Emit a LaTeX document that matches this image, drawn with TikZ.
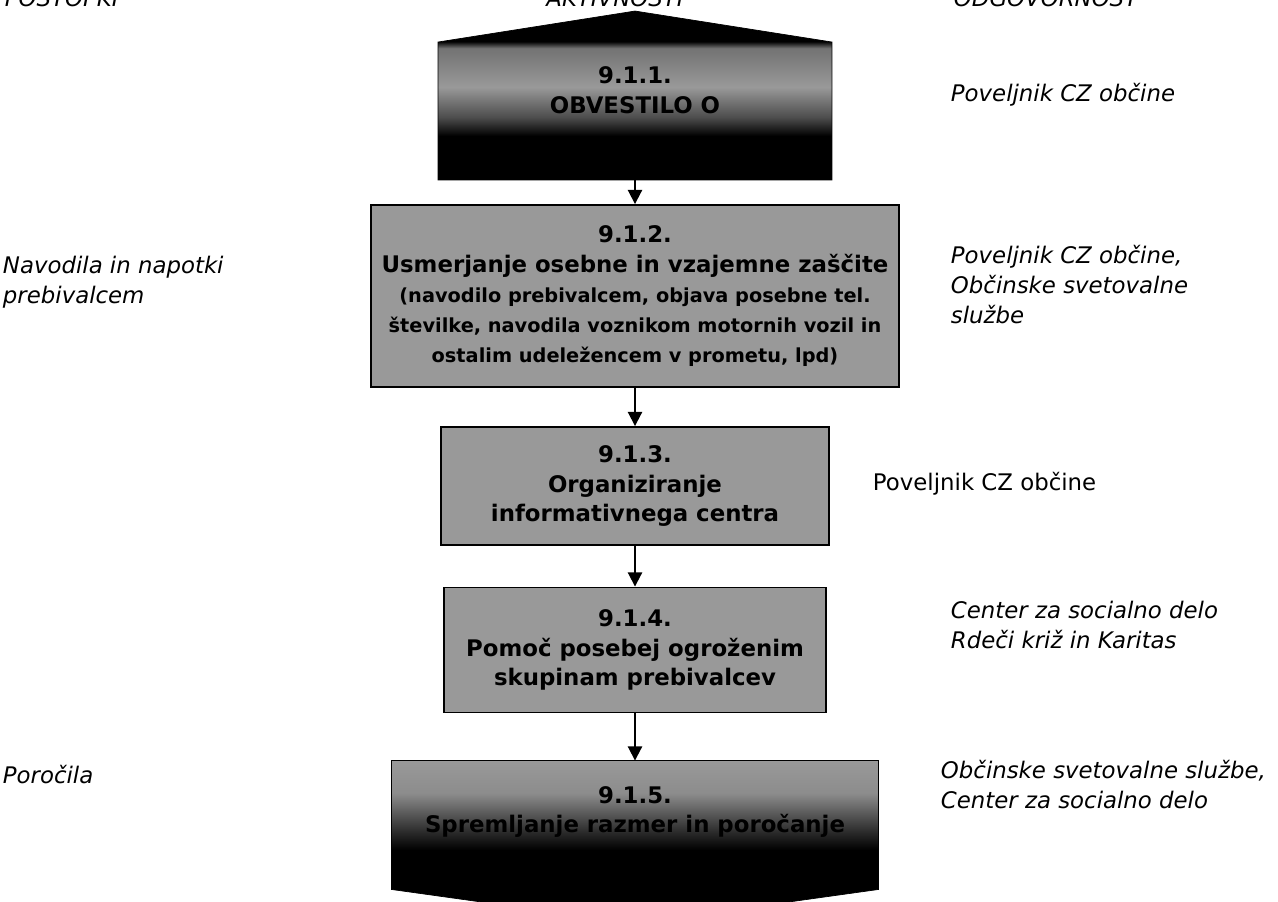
\documentclass[tikz,border=0pt]{standalone}
\usepackage{fontspec}
\setmainfont{DejaVu Sans}
\usetikzlibrary{arrows.meta,backgrounds}

% shadings for the first and the last activity
\pgfdeclareverticalshading{topbox}{100bp}{color(0bp)=(black); color(38bp)=(black); color(43.5bp)=(black!70); color(52.5bp)=(black!40); color(64bp)=(black!55); color(66bp)=(black); color(100bp)=(black)}
\pgfdeclareverticalshading{endbox}{100bp}{color(0bp)=(black); color(47.5bp)=(black); color(52.5bp)=(black!85); color(65bp)=(black!45); color(75bp)=(black!40); color(100bp)=(black!40)}

\tikzset{
  actbox/.style={draw,fill=black!40,align=center,inner sep=0pt,
    font=\fontsize{13}{17}\selectfont\bfseries},
  bodybox/.style={inner sep=0pt},
  boxtext/.style={align=center,inner sep=0pt,font=\fontsize{13}{17}\selectfont\bfseries},
  sidetext/.style={anchor=base west,align=left,inner sep=0pt,
    font=\fontsize{13}{17}\selectfont\itshape},
  head/.style={anchor=base,inner sep=0pt,font=\fontsize{13}{17}\selectfont\itshape},
}

\begin{document}
\begin{tikzpicture}[>={Triangle[length=8pt,width=8pt]},line width=1.1pt,x=0.02cm,y=-0.02cm]
  \useasboundingbox (0,0) rectangle (1278,902);

  % column heads (cut by the top edge)
  \node[head,anchor=base west] (hpost) at (4,7) {POSTOPKI};
  \node[head] (hakt) at (615,7) {AKTIVNOSTI};
  \node[head,anchor=base west] (hodg) at (953,7) {ODGOVORNOST};

  % activities
  \node[bodybox,minimum width=7.84cm,minimum height=2.72cm] (b1) at (635,111) {};
  \node[actbox,minimum width=10.56cm,minimum height=3.64cm] (b2) at (635,296)
    {9.1.2.\\Usmerjanje osebne in vzajemne zaščite\\
     {\fontsize{11}{16}\selectfont (navodilo prebivalcem, objava posebne tel.}\\
     {\fontsize{11}{16}\selectfont številke, navodila voznikom motornih vozil in}\\
     {\fontsize{11}{16}\selectfont ostalim udeležencem v prometu, lpd)}};
  \node[actbox,minimum width=7.76cm,minimum height=2.36cm] (b3) at (635,486)
    {9.1.3.\\Organiziranje\\informativnega centra};
  \node[actbox,minimum width=7.64cm,minimum height=2.5cm] (b4) at (635,650)
    {9.1.4.\\Pomoč posebej ogroženim\\skupinam prebivalcev};
  \node[bodybox,minimum width=9.7cm,minimum height=2.54cm] (b5) at (635,825) {};

  \begin{scope}[on background layer]
    \shadedraw[shading=topbox] (b1.south west) -- (b1.north west)
      -- ([yshift=0.62cm]b1.north) -- (b1.north east) -- (b1.south east) -- cycle;
    \shadedraw[shading=endbox] (b5.north west) -- (b5.north east)
      -- (b5.south east) -- ([yshift=-0.68cm]b5.south) -- (b5.south west) -- cycle;
  \end{scope}
  \node[boxtext] (b1t) at (635,90) {9.1.1.\\OBVESTILO O};
  \node[boxtext] (b5t) at (635,812) {9.1.5.\\Spremljanje razmer in poročanje};

  % flow
  \draw[->] (b1) -- (b2);
  \draw[->] (b2) -- (b3);
  \draw[->] (b3) -- (b4);
  \draw[->] (b4) -- (b5);

  % procedures (base = last line)
  \node[sidetext] (p2) at (2,303) {Navodila in napotki\\prebivalcem};
  \node[sidetext] (p5) at (2,783) {Poročila};

  % responsibility
  \node[sidetext] (r1) at (950,102) {Poveljnik CZ občine};
  \node[sidetext] (r2) at (950,323) {Poveljnik CZ občine,\\Občinske svetovalne\\službe};
  \node[sidetext,font=\fontsize{13}{17}\selectfont] (r3) at (872,490) {Poveljnik CZ občine};
  \node[sidetext] (r4) at (950,648) {Center za socialno delo\\Rdeči križ in Karitas};
  \node[sidetext] (r5) at (940,808) {Občinske svetovalne službe,\\Center za socialno delo};
\end{tikzpicture}
\end{document}
